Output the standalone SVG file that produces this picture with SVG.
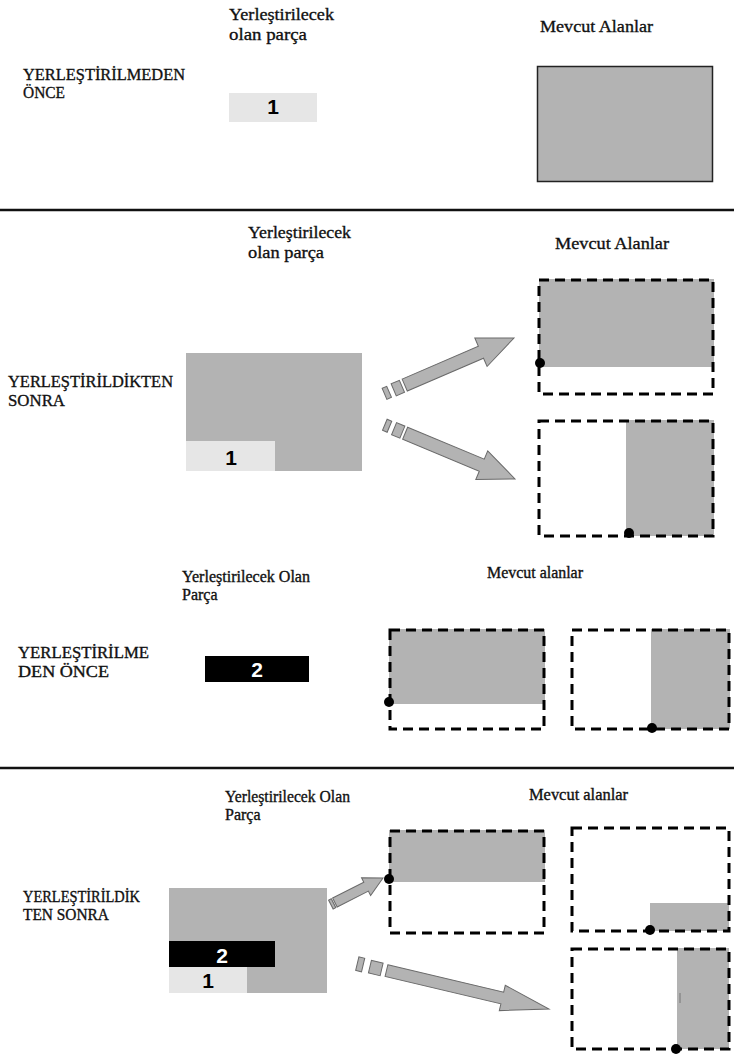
<svg xmlns="http://www.w3.org/2000/svg" width="734" height="1059" viewBox="0 0 734 1059">
<defs>
<style>
.lbl{font-family:'Liberation Serif','DejaVu Serif',serif;fill:#111;stroke:#111;stroke-width:0.35px;}
.side{font-size:17px;}
.head{font-size:17.5px;}
.head2{font-size:16px;}
.side2{font-size:16px;}
.num{font-family:'Liberation Sans',Arial,sans-serif;font-weight:bold;font-size:21px;text-anchor:middle;}
.gray{fill:#b3b3b3;}
.light{fill:#e6e6e6;}
.dash{fill:none;stroke:#000;stroke-width:3;stroke-dasharray:10 6;}
.dot{fill:#000;}
.arrow{fill:#b3b3b3;stroke:#6a6a6a;stroke-width:1;stroke-linejoin:miter;}
.rule{stroke:#111;stroke-width:2.5;}
</style>
</defs>

<g id="section1">
  <g id="s1-labels">
    <text class="lbl head" x="229" y="20" textLength="105" lengthAdjust="spacingAndGlyphs">Yerleştirilecek</text>
    <text class="lbl head" x="229" y="40" textLength="78" lengthAdjust="spacingAndGlyphs">olan parça</text>
    <text class="lbl head" x="540" y="32" textLength="113" lengthAdjust="spacingAndGlyphs">Mevcut Alanlar</text>
    <text class="lbl side" x="23" y="80" textLength="162" lengthAdjust="spacingAndGlyphs">YERLEŞTİRİLMEDEN</text>
    <text class="lbl side" x="23" y="98" textLength="42" lengthAdjust="spacingAndGlyphs">ÖNCE</text>
  </g>
  <g id="s1-piece1">
    <rect class="light" x="229" y="93" width="88" height="29"/>
    <text class="num" x="273" y="114" fill="#000">1</text>
  </g>
  <g id="s1-area">
    <rect x="537.5" y="66.5" width="175" height="115" fill="#b3b3b3" stroke="#222" stroke-width="1.5"/>
  </g>
</g>

<line class="rule" x1="0" y1="210" x2="734" y2="210"/>

<g id="section2">
  <g id="s2-labels">
    <text class="lbl head" x="248" y="238" textLength="103" lengthAdjust="spacingAndGlyphs">Yerleştirilecek</text>
    <text class="lbl head" x="248" y="258" textLength="76" lengthAdjust="spacingAndGlyphs">olan parça</text>
    <text class="lbl head" x="555" y="249" textLength="114" lengthAdjust="spacingAndGlyphs">Mevcut Alanlar</text>
    <text class="lbl side" x="8" y="387" textLength="165" lengthAdjust="spacingAndGlyphs">YERLEŞTİRİLDİKTEN</text>
    <text class="lbl side" x="8" y="406" textLength="57" lengthAdjust="spacingAndGlyphs">SONRA</text>
  </g>
  <g id="s2-placed">
    <rect class="gray" x="186" y="353" width="176" height="118"/>
    <rect class="light" x="186" y="441" width="89" height="30"/>
    <text class="num" x="231" y="465" fill="#000">1</text>
  </g>
  <g id="s2-area-a">
    <rect class="gray" x="539" y="279" width="175" height="88"/>
    <rect class="dash" x="539" y="280" width="174" height="114"/>
    <circle class="dot" cx="540" cy="363" r="5"/>
  </g>
  <g id="s2-area-b">
    <rect class="gray" x="626" y="420" width="88" height="116"/>
    <rect class="dash" x="539" y="421" width="174" height="115"/>
    <circle class="dot" cx="629" cy="533" r="5"/>
  </g>
</g>

<g id="section3">
  <g id="s3-labels">
    <text class="lbl head2" x="182" y="582" textLength="128" lengthAdjust="spacingAndGlyphs">Yerleştirilecek Olan</text>
    <text class="lbl head2" x="182" y="600">Parça</text>
    <text class="lbl head2" x="487" y="578" textLength="96" lengthAdjust="spacingAndGlyphs">Mevcut alanlar</text>
    <text class="lbl side2" x="18" y="658" textLength="131" lengthAdjust="spacingAndGlyphs">YERLEŞTİRİLME</text>
    <text class="lbl side2" x="18" y="677" textLength="91" lengthAdjust="spacingAndGlyphs">DEN ÖNCE</text>
  </g>
  <g id="s3-piece2">
    <rect x="205" y="656" width="104" height="26" fill="#000"/>
    <text class="num" x="257" y="677" fill="#fff">2</text>
  </g>
  <g id="s3-area-a">
    <rect class="gray" x="389" y="629" width="156" height="75"/>
    <rect class="dash" x="390" y="630" width="154" height="99"/>
    <circle class="dot" cx="389" cy="702" r="5"/>
  </g>
  <g id="s3-area-b">
    <rect class="gray" x="651" y="629" width="79" height="100"/>
    <rect class="dash" x="572" y="630" width="157" height="99"/>
    <circle class="dot" cx="652" cy="728" r="5"/>
  </g>
</g>

<line class="rule" x1="0" y1="768" x2="734" y2="768"/>

<g id="section4">
  <g id="s4-labels">
    <text class="lbl head2" x="225" y="802" textLength="125" lengthAdjust="spacingAndGlyphs">Yerleştirilecek Olan</text>
    <text class="lbl head2" x="225" y="820">Parça</text>
    <text class="lbl head2" x="529" y="800" textLength="99" lengthAdjust="spacingAndGlyphs">Mevcut alanlar</text>
    <text class="lbl side2" x="23" y="902" textLength="117" lengthAdjust="spacingAndGlyphs">YERLEŞTİRİLDİK</text>
    <text class="lbl side2" x="23" y="920" textLength="86" lengthAdjust="spacingAndGlyphs">TEN SONRA</text>
  </g>
  <g id="s4-placed">
    <rect class="gray" x="169" y="888" width="158" height="105"/>
    <rect x="169" y="941" width="106" height="26" fill="#000"/>
    <text class="num" x="222" y="963" fill="#fff">2</text>
    <rect class="light" x="169" y="967" width="78" height="26"/>
    <text class="num" x="208" y="988" fill="#000">1</text>
  </g>
  <g id="s4-area-a">
    <rect class="gray" x="389" y="830" width="156" height="52"/>
    <rect class="dash" x="390" y="831" width="154" height="102"/>
    <circle class="dot" cx="389" cy="879" r="5"/>
  </g>
  <g id="s4-area-b">
    <rect class="gray" x="650" y="903" width="79" height="28"/>
    <rect class="dash" x="572" y="828" width="157" height="103"/>
    <circle class="dot" cx="650" cy="930" r="5"/>
  </g>
  <g id="s4-area-c">
    <rect class="gray" x="677" y="948" width="52" height="101"/>
    <line x1="680" y1="993" x2="680" y2="1003" stroke="#777" stroke-width="1"/>
    <rect class="dash" x="572" y="949" width="157" height="100"/>
    <circle class="dot" cx="676" cy="1049" r="5"/>
  </g>
</g>

<g id="connectors">
  <g class="arrow" transform="translate(514,338) rotate(-23.3)">
    <path d="M-119 -6.5 L-36 -6.5 L-36 -15.5 L0 0 L-36 15.5 L-36 6.5 L-119 6.5 Z"/>
    <rect x="-131" y="-6.5" width="9" height="13"/>
    <rect x="-141" y="-6" width="5" height="12"/>
  </g>
  <g class="arrow" transform="translate(515,479) rotate(22.6)">
    <path d="M-119 -6.5 L-36 -6.5 L-36 -15.5 L0 0 L-36 15.5 L-36 6.5 L-119 6.5 Z"/>
    <rect x="-131" y="-6.5" width="9" height="13"/>
    <rect x="-141" y="-6" width="5" height="12"/>
  </g>
  <g class="arrow" transform="translate(383,878) rotate(-27)">
    <path d="M-54 -5 L-19 -5 L-19 -10 L0 0 L-19 10 L-19 5 L-54 5 Z"/>
    <rect x="-58.5" y="-5" width="3" height="10"/>
  </g>
  <g class="arrow" transform="translate(549,1009) rotate(13.3)">
    <path d="M-167 -6 L-48 -6 L-48 -13 L0 0 L-48 13 L-48 6 L-167 6 Z"/>
    <rect x="-184" y="-6.5" width="12" height="13"/>
    <rect x="-197" y="-7" width="6" height="14"/>
  </g>
</g>
</svg>
